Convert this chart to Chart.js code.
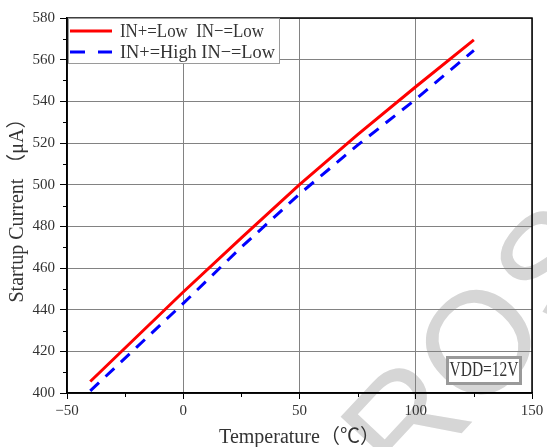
<!DOCTYPE html>
<html>
<head>
<meta charset="utf-8">
<script src="https://cdn.jsdelivr.net/npm/chart.js@4.4.0/dist/chart.umd.min.js"></script>
<style>
  html, body { margin: 0; padding: 0; background: #fff; }
  #wrap { width: 547px; height: 447px; }
</style>
</head>
<body>
<div id="wrap"><canvas id="chart" width="547" height="447"></canvas></div>
<script>
// 데이터
const temps = [-40, -20, 0, 25, 50, 75, 100, 125];
const lowLow = [405.5, 427, 448.5, 474.5, 500, 524, 547, 569.5];
const highLow = [401, 422, 443, 470, 495.5, 519, 541, 564.5];
const seriesNames = ['IN+=Low  IN−=Low', 'IN+=High IN−=Low'];
const xTicks = [-50, 0, 50, 100, 150];
const yTicks = [400, 420, 440, 460, 480, 500, 520, 540, 560, 580];
const xMinor = [-25, 25, 75, 125];
const yMinor = [410, 430, 450, 470, 490, 510, 530, 550, 570];
const note = 'VDD=12V';

const serif = "'Liberation Serif', 'Noto Sans CJK SC', serif";
const textColor = '#333';

const toPoints = (xs, ys) => xs.map((x, i) => ({ x: x, y: ys[i] }));

// 워터마크 (맨 아래에 그림)
const watermark = {
  id: 'watermark',
  beforeDraw(chart) {
    const ctx = chart.ctx;
    ctx.save();
    ctx.fillStyle = '#d6d6d6';
    ctx.font = "145px 'Liberation Sans', sans-serif";
    ctx.textAlign = 'center';
    ctx.textBaseline = 'middle';
    ctx.translate(412, 428);
    ctx.rotate(-47 * Math.PI / 180);
    ctx.fillText('R', 0, 0);
    ctx.fillText('O', 108, 0);
    ctx.fillText('S', 216, 0);
    ctx.restore();
  }
};

// 테두리, 보조 눈금, 범례, 주석
const extras = {
  id: 'extras',
  afterDraw(chart) {
    const ctx = chart.ctx;
    const a = chart.chartArea;
    const xs = chart.scales.x, ys = chart.scales.y;
    ctx.save();
    // frame
    ctx.strokeStyle = '#000';
    ctx.lineWidth = 1.5;
    ctx.strokeRect(a.left, a.top, a.right - a.left, a.bottom - a.top);
    // minor ticks
    ctx.lineWidth = 1;
    ctx.beginPath();
    xMinor.forEach(v => {
      const px = Math.round(xs.getPixelForValue(v)) + 0.5;
      ctx.moveTo(px, a.bottom);
      ctx.lineTo(px, a.bottom + 4);
    });
    yMinor.forEach(v => {
      const py = Math.round(ys.getPixelForValue(v)) + 0.5;
      ctx.moveTo(a.left - 4, py);
      ctx.lineTo(a.left, py);
    });
    ctx.stroke();

    // legend
    const lx = a.left + 1, ly = a.top;
    ctx.fillStyle = '#fff';
    ctx.fillRect(lx, ly, 211, 45);
    ctx.strokeStyle = '#9a9a9a';
    ctx.lineWidth = 1;
    ctx.strokeRect(lx + 0.5, ly + 0.5, 211, 45);
    const rows = [ly + 13, ly + 34];
    const widths = [144, 155];
    chart.data.datasets.forEach((ds, i) => {
      ctx.beginPath();
      ctx.strokeStyle = ds.borderColor;
      ctx.lineWidth = 3;
      ctx.setLineDash(i === 1 ? [15, 13] : []);
      ctx.moveTo(lx + 2, rows[i]);
      ctx.lineTo(lx + 44, rows[i]);
      ctx.stroke();
      ctx.setLineDash([]);
      ctx.fillStyle = textColor;
      ctx.font = '19px ' + serif;
      ctx.textAlign = 'left';
      ctx.textBaseline = 'middle';
      ctx.fillText(ds.label, lx + 52, rows[i] + 1, widths[i]);
    });

    // VDD note
    const bx = 447, by = 357, bw = 73, bh = 26;
    ctx.fillStyle = '#fff';
    ctx.fillRect(bx, by, bw, bh);
    ctx.strokeStyle = '#9a9a9a';
    ctx.strokeRect(bx + 0.5, by + 0.5, bw, bh);
    ctx.fillStyle = textColor;
    ctx.font = '20px ' + serif;
    ctx.textAlign = 'center';
    ctx.textBaseline = 'middle';
    ctx.fillText(note, bx + bw / 2 + 0.5, by + bh / 2 + 1, 69);
    ctx.restore();
  }
};

const ctx = document.getElementById('chart').getContext('2d');
const chart = new Chart(ctx, {
  type: 'line',
  data: {
    datasets: [{
      label: seriesNames[0],
      data: toPoints(temps, lowLow),
      borderColor: '#ff0000',
      borderWidth: 3,
      pointRadius: 0,
      tension: 0
    }, {
      label: seriesNames[1],
      data: toPoints(temps, highLow),
      borderColor: '#0000ff',
      borderWidth: 3,
      borderDash: [12, 9],
      pointRadius: 0,
      tension: 0
    }]
  },
  options: {
    responsive: false,
    animation: false,
    devicePixelRatio: 1,
    layout: { padding: { top: 18, right: 15, left: 0, bottom: 0 } },
    plugins: { legend: { display: false }, tooltip: { enabled: false } },
    scales: {
      x: {
        type: 'linear',
        min: -50,
        max: 150,
        afterBuildTicks: s => { s.ticks = xTicks.map(v => ({ value: v })); },
        afterFit: s => { s.height = 54; },
        ticks: {
          color: textColor,
          padding: 3,
          maxRotation: 0,
          font: { family: serif, size: 15 },
          callback: v => String(v).replace('-', '−')
        },
        grid: { color: '#828282', lineWidth: 1, tickLength: 6, tickColor: '#000' },
        border: { color: '#000', width: 1.5 },
        title: {
          display: true,
          text: 'Temperature（℃）',
          color: textColor,
          padding: 0,
          font: { family: serif, size: 20, lineHeight: 0.9 }
        }
      },
      y: {
        type: 'linear',
        min: 400,
        max: 580,
        afterBuildTicks: s => { s.ticks = yTicks.map(v => ({ value: v })); },
        afterFit: s => { s.width = 67; },
        ticks: {
          color: textColor,
          padding: 5,
          font: { family: serif, size: 15 }
        },
        grid: { color: '#828282', lineWidth: 1, tickLength: 7, tickColor: '#000' },
        border: { color: '#000', width: 1.5 },
        title: {
          display: true,
          text: 'Startup Current （μA）',
          color: textColor,
          padding: 0,
          font: { family: serif, size: 20, lineHeight: 1.8 }
        }
      }
    }
  },
  plugins: [watermark, extras]
});
</script>
</body>
</html>
